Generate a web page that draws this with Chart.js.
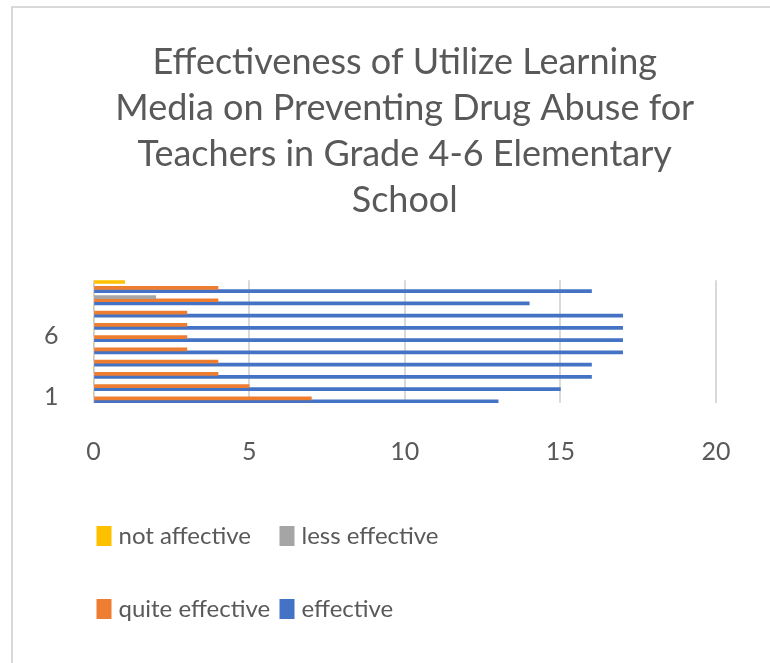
<!DOCTYPE html>
<html>
<head>
<meta charset="utf-8">
<script src="https://cdn.jsdelivr.net/npm/chart.js@4.4.1/dist/chart.umd.min.js"></script>
<style>
  html, body { margin: 0; padding: 0; background: #fff; }
  #wrap { position: relative; width: 770px; height: 663px; }
  #frame {
    position: absolute; left: 11px; top: 6px; right: -10px; bottom: -10px;
    border-left: 2px solid #d9d9d9; border-top: 2px solid #d9d9d9;
    pointer-events: none;
  }
</style>
</head>
<body>
<div id="wrap">
  <canvas id="chart" width="770" height="663"></canvas>
  <div id="frame"></div>
</div>
<script>
const categories = ['1', '2', '3', '4', '5', '6', '7', '8', '9', '10']
const notAffective = [0, 0, 0, 0, 0, 0, 0, 0, 0, 1]
const lessEffective = [0, 0, 0, 0, 0, 0, 0, 0, 2, 0]
const quiteEffective = [7, 5, 4, 4, 3, 3, 3, 3, 4, 4]
const effective = [13, 15, 16, 16, 17, 17, 17, 17, 14, 16]
const xTicks = [0, 5, 10, 15, 20]
const titleLines = [
  'Effectiveness of Utilize Learning',
  'Media on Preventing Drug Abuse for',
  'Teachers in Grade 4-6 Elementary',
  'School'
]

const textColor = '#595959'
const fontFamily = 'Lato, "Liberation Sans", sans-serif'

// legend laid out as a 2 x 2 grid under the axis, like the Excel original
const gridLegend = {
  id: 'gridLegend',
  afterDraw(chart) {
    const { ctx, chartArea } = chart
    const items = chart.data.datasets
    ctx.save()
    ctx.font = '24px ' + fontFamily
    ctx.textBaseline = 'middle'
    ctx.textAlign = 'left'
    items.forEach((ds, i) => {
      const col = i % 2
      const row = Math.floor(i / 2)
      const x = chartArea.left + 3 + col * 183
      const y = chartArea.bottom + 133 + row * 73
      ctx.fillStyle = ds.backgroundColor
      ctx.fillRect(x, y - 10, 15, 20)
      ctx.fillStyle = textColor
      ctx.fillText(ds.label, x + 22, y)
    })
    ctx.restore()
  }
}

const ctx = document.getElementById('chart').getContext('2d')
new Chart(ctx, {
  type: 'bar',
  data: {
    labels: categories,
    datasets: [
      { label: 'not affective', data: notAffective, backgroundColor: '#FFC000' },
      { label: 'less effective', data: lessEffective, backgroundColor: '#A5A5A5' },
      { label: 'quite effective', data: quiteEffective, backgroundColor: '#ED7D31' },
      { label: 'effective', data: effective, backgroundColor: '#4472C4' }
    ]
  },
  options: {
    indexAxis: 'y',
    responsive: false,
    animation: false,
    devicePixelRatio: 1,
    datasets: {
      bar: { categoryPercentage: 1, barPercentage: 1, borderWidth: 0 }
    },
    layout: { padding: { left: 9, right: 54, top: 10, bottom: 162 } },
    plugins: {
      legend: { display: false },
      tooltip: { enabled: false },
      title: {
        display: true,
        fullSize: false,
        text: titleLines,
        color: textColor,
        font: { family: fontFamily, size: 36, weight: 'normal', lineHeight: 1.28 },
        padding: { top: 29, bottom: 57 }
      }
    },
    scales: {
      x: {
        min: xTicks[0],
        max: xTicks[xTicks.length - 1],
        afterBuildTicks: axis => { axis.ticks = xTicks.map(v => ({ value: v })) },
        grid: { color: '#d9d9d9', lineWidth: 2, drawTicks: false },
        border: { display: false },
        ticks: { color: textColor, padding: 34, font: { family: fontFamily, size: 25 } }
      },
      y: {
        reverse: true,
        grid: { display: false, drawTicks: false },
        border: { display: false },
        ticks: {
          autoSkip: false,
          color: textColor,
          padding: 35,
          font: { family: fontFamily, size: 25 },
          callback: (value, index) => index % 5 === 0 ? categories[index] : ''
        }
      }
    }
  },
  plugins: [gridLegend]
})
</script>
</body>
</html>
